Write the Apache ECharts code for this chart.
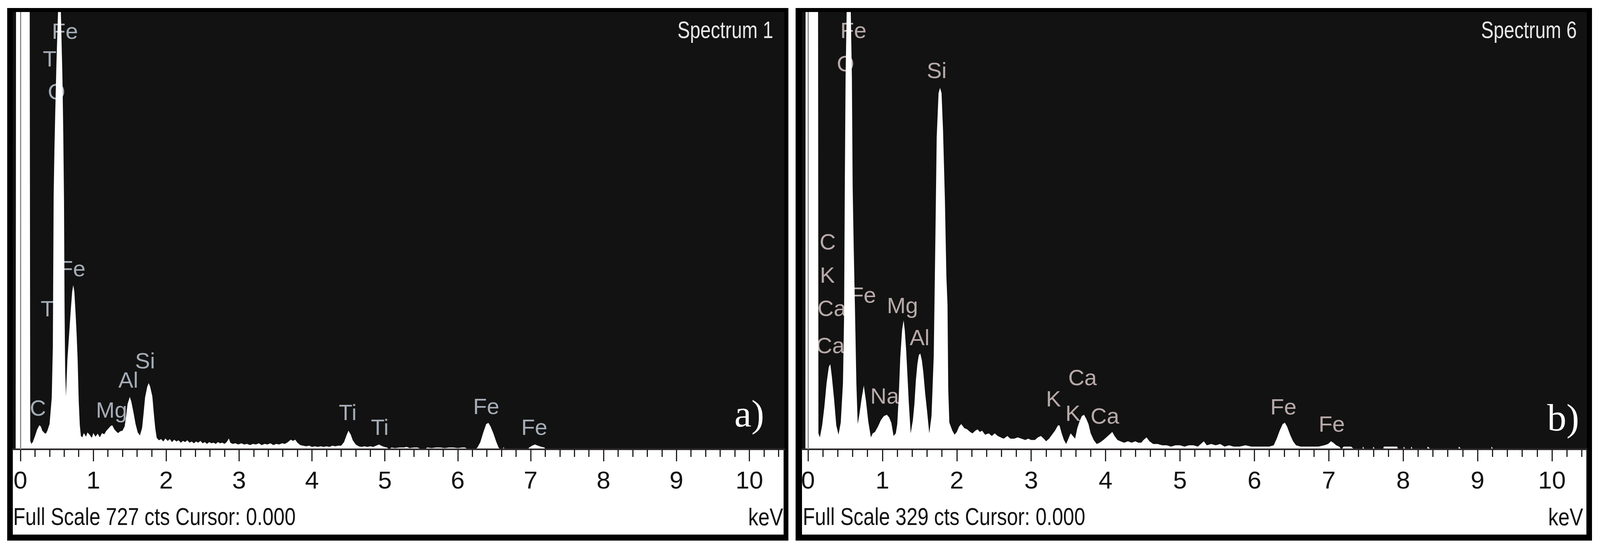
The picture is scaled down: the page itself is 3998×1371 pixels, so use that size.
<!DOCTYPE html>
<html>
<head>
<meta charset="utf-8">
<title>EDS spectra</title>
<script src="https://cdn.jsdelivr.net/npm/echarts@6.0.0/dist/echarts.min.js"></script>
<style>
  html, body { margin: 0; padding: 0; background: #fff; }
  #eds { width: 3998px; height: 1371px; }
</style>
</head>
<body>
<div id="eds"></div>
<script>
// ---- data: [keV, counts] ----
const spectrumA = [
  [-0.104, 0], [-0.065, 0], [-0.058, 1000], [0.125, 1000], [0.135, 14], [0.15, 9], [0.17, 12], [0.2, 22],
  [0.23, 33], [0.26, 40], [0.28, 38], [0.3, 31], [0.33, 27], [0.35, 26], [0.37, 31], [0.4, 42],
  [0.43, 86], [0.445, 170], [0.456, 420], [0.467, 500], [0.478, 560], [0.494, 640], [0.516, 727],
  [0.535, 760], [0.555, 727], [0.577, 615], [0.588, 526], [0.598, 415], [0.606, 230], [0.614, 130],
  [0.625, 88], [0.645, 150], [0.665, 185], [0.69, 230], [0.71, 262], [0.725, 273], [0.74, 262],
  [0.755, 230], [0.77, 195], [0.785, 150], [0.8, 80], [0.815, 40], [0.83, 22],
  [0.85, 20], [0.87, 27], [0.9, 21], [0.92, 28], [0.95, 24], [0.98, 19], [1.0, 27], [1.03, 21],
  [1.06, 26], [1.09, 20], [1.12, 27], [1.15, 25], [1.18, 31], [1.21, 35], [1.24, 39], [1.26, 40],
  [1.29, 33], [1.32, 29], [1.34, 27], [1.37, 30], [1.4, 31], [1.43, 38], [1.45, 55], [1.47, 75],
  [1.5, 87], [1.52, 80], [1.55, 62], [1.58, 42], [1.61, 28], [1.64, 23], [1.67, 36], [1.69, 60],
  [1.71, 86], [1.74, 104], [1.76, 110], [1.78, 104], [1.81, 88], [1.83, 60], [1.85, 35], [1.87, 19],
  [1.9, 15], [1.93, 17], [1.96, 13], [1.99, 18], [2.02, 14], [2.05, 17], [2.08, 12], [2.11, 16],
  [2.14, 13], [2.17, 15], [2.2, 11], [2.23, 14], [2.26, 12], [2.29, 15], [2.32, 11], [2.35, 13],
  [2.38, 10], [2.41, 13], [2.44, 11], [2.47, 14], [2.5, 10], [2.53, 12], [2.56, 9], [2.59, 12],
  [2.62, 10], [2.65, 11], [2.68, 9], [2.71, 12], [2.74, 10], [2.77, 11], [2.8, 9], [2.83, 12],
  [2.86, 18], [2.88, 11], [2.91, 9], [2.95, 10], [2.99, 8], [3.03, 10], [3.07, 8], [3.11, 9],
  [3.15, 7], [3.19, 9], [3.23, 8], [3.27, 10], [3.31, 7], [3.35, 9], [3.39, 8], [3.43, 10],
  [3.47, 7], [3.51, 9], [3.55, 8], [3.59, 10], [3.63, 9], [3.67, 12], [3.71, 16], [3.74, 14],
  [3.77, 16], [3.8, 11], [3.84, 7], [3.88, 6], [3.92, 5], [3.96, 6], [4.0, 4], [4.04, 5],
  [4.08, 4], [4.12, 5], [4.16, 4], [4.2, 5], [4.24, 4], [4.28, 6], [4.32, 5], [4.36, 6],
  [4.4, 6], [4.44, 12], [4.47, 22], [4.5, 31], [4.53, 25], [4.56, 15], [4.6, 8], [4.64, 5],
  [4.68, 4], [4.72, 5], [4.76, 4], [4.8, 5], [4.84, 4], [4.88, 6], [4.92, 8], [4.95, 6],
  [4.99, 4], [5.03, 3], [5.06, 0], [5.09, 3], [5.14, 2], [5.2, 3], [5.26, 3], [5.3, 4],
  [5.34, 2], [5.4, 3], [5.45, 3], [5.5, 0], [5.55, 0], [5.58, 3], [5.64, 2], [5.7, 3],
  [5.76, 3], [5.82, 2], [5.88, 3], [5.94, 3], [6.0, 2], [6.06, 3], [6.1, 3], [6.14, 0],
  [6.24, 0], [6.27, 3], [6.31, 12], [6.35, 28], [6.39, 42], [6.42, 44], [6.45, 38], [6.49, 26],
  [6.53, 12], [6.56, 3], [6.58, 0], [6.62, 0], [6.63, 4], [6.64, 0], [6.96, 0], [6.98, 3],
  [7.02, 6], [7.06, 8], [7.1, 6], [7.15, 4], [7.19, 3], [7.2, 0], [10.481, 0]
];

const spectrumB = [
  [-0.081, 0], [-0.035, 0], [-0.03, 700], [0.13, 700], [0.14, 12], [0.16, 9], [0.19, 18], [0.22, 32],
  [0.25, 50], [0.28, 62], [0.3, 64], [0.32, 55], [0.35, 38], [0.38, 18], [0.41, 11], [0.44, 20],
  [0.47, 50], [0.485, 100], [0.495, 200], [0.505, 280], [0.52, 329], [0.545, 345], [0.575, 329],
  [0.59, 279], [0.6, 198], [0.615, 150], [0.63, 109], [0.65, 50], [0.668, 19], [0.69, 26],
  [0.72, 38], [0.75, 48], [0.78, 36], [0.81, 21], [0.845, 9], [0.87, 12], [0.9, 13], [0.94, 17],
  [0.98, 22], [1.02, 25], [1.06, 26], [1.09, 24], [1.12, 20], [1.15, 10], [1.18, 12], [1.2, 19],
  [1.22, 40], [1.24, 69], [1.265, 90], [1.285, 97], [1.3, 90], [1.32, 74], [1.34, 52], [1.355, 35],
  [1.38, 12], [1.41, 22], [1.43, 34], [1.45, 52], [1.47, 64], [1.49, 71], [1.51, 72], [1.53, 67],
  [1.55, 58], [1.575, 42], [1.6, 29], [1.63, 12], [1.66, 25], [1.69, 70], [1.71, 150], [1.73, 235],
  [1.755, 268], [1.775, 272], [1.795, 268], [1.815, 240], [1.84, 188], [1.86, 130], [1.875, 109],
  [1.885, 45], [1.9, 20], [1.94, 14], [1.97, 11], [2.0, 13], [2.03, 17], [2.06, 19], [2.1, 16],
  [2.14, 15], [2.18, 13], [2.21, 12], [2.25, 14], [2.28, 15], [2.31, 13], [2.34, 14], [2.38, 11],
  [2.43, 12], [2.47, 10], [2.51, 12], [2.55, 10], [2.59, 9], [2.63, 8], [2.68, 10], [2.72, 8],
  [2.77, 8], [2.82, 9], [2.87, 8], [2.92, 7], [2.96, 8], [3.0, 7], [3.05, 7], [3.09, 9],
  [3.13, 10], [3.17, 8], [3.2, 6], [3.24, 8], [3.28, 11], [3.32, 14], [3.36, 18], [3.38, 18],
  [3.41, 12], [3.44, 7], [3.47, 4], [3.5, 8], [3.53, 12], [3.56, 10], [3.59, 8], [3.62, 16],
  [3.65, 21], [3.68, 25], [3.71, 26], [3.74, 23], [3.77, 19], [3.8, 12], [3.84, 7], [3.88, 4],
  [3.92, 5], [3.97, 7], [4.01, 9], [4.05, 11], [4.09, 13], [4.12, 10], [4.16, 7], [4.2, 6],
  [4.25, 5], [4.3, 6], [4.35, 5], [4.4, 6], [4.44, 5], [4.48, 5], [4.51, 7], [4.55, 9],
  [4.59, 6], [4.64, 4], [4.7, 4], [4.76, 3], [4.82, 3], [4.88, 2], [4.94, 3], [5.0, 3],
  [5.06, 2], [5.12, 3], [5.18, 3], [5.24, 2], [5.28, 4], [5.32, 6], [5.36, 3], [5.42, 4],
  [5.48, 3], [5.54, 4], [5.6, 2], [5.66, 3], [5.72, 2], [5.8, 2], [5.88, 3], [5.96, 2],
  [6.04, 2], [6.12, 2], [6.2, 2], [6.26, 3], [6.3, 8], [6.34, 14], [6.38, 19], [6.41, 20],
  [6.44, 17], [6.48, 11], [6.52, 6], [6.56, 3], [6.62, 2], [6.7, 2], [6.78, 2], [6.86, 2],
  [6.94, 3], [6.99, 4], [7.03, 6], [7.06, 5], [7.1, 3], [7.14, 2], [7.17, 0], [7.2, 2],
  [7.3, 2], [7.34, 0], [7.45, 0], [7.46, 2], [7.48, 0], [7.59, 0], [7.6, 2], [7.62, 0],
  [7.73, 0], [7.74, 2], [7.92, 2], [7.93, 0], [8.0, 0], [8.01, 2], [8.03, 0], [8.1, 0],
  [8.11, 2], [8.13, 0], [8.32, 0], [8.33, 2], [8.37, 0], [8.74, 0], [8.75, 2], [8.78, 0],
  [9.18, 0], [9.19, 2], [9.21, 0], [10.468, 0]
];

// element labels: [text, keV, counts] (centre of the label)
const labelsA = [
  ['Fe', 0.61, 693], ['Ti', 0.43, 647], ['O', 0.495, 592], ['Fe', 0.714, 298], ['Ti', 0.40, 231],
  ['C', 0.24, 66], ['Mg', 1.25, 63], ['Al', 1.48, 113], ['Si', 1.71, 145],
  ['Ti', 4.49, 59], ['Ti', 4.93, 34], ['Fe', 6.39, 69], ['Fe', 7.05, 34]
];
const labelsB = [
  ['Fe', 0.61, 314], ['O', 0.505, 289], ['Si', 1.73, 284], ['C', 0.265, 155], ['K', 0.26, 130],
  ['Ca', 0.32, 105], ['Fe', 0.74, 115], ['Mg', 1.27, 107], ['Al', 1.50, 83], ['Ca', 0.30, 77],
  ['Na', 1.03, 39], ['K', 3.30, 37], ['Ca', 3.69, 53], ['K', 3.56, 26], ['Ca', 3.99, 24],
  ['Fe', 6.39, 31], ['Fe', 7.04, 18]
];

const fullScaleA = 727;
const fullScaleB = 329;
const majorTicks = [0, 1, 2, 3, 4, 5, 6, 7, 8, 9, 10];
const minorTicks = [];
for (let k = 0; k <= 52; k++) {
    if (k % 5 !== 0) minorTicks.push(+(k * 0.2).toFixed(1));
}

const sans = "'Liberation Sans', Arial, sans-serif";
const serif = "'Liberation Serif', 'DejaVu Serif', serif";

let chart = echarts.init(document.getElementById('eds'), null, {renderer: 'canvas'});

function mainAxis(gridIndex, min, max) {
    return {
        type: 'value', gridIndex: gridIndex, min: min, max: max, z: 3,
        axisLine: {show: true, onZero: false, lineStyle: {color: '#2e2a2a', width: 4}},
        axisTick: {show: true, customValues: majorTicks, length: 30, lineStyle: {color: '#222', width: 3}},
        axisLabel: {show: true, customValues: majorTicks, margin: 50, fontSize: 62, color: '#111', fontFamily: sans},
        splitLine: {show: false}
    };
}
function minorAxis(gridIndex, min, max) {
    return {
        type: 'value', gridIndex: gridIndex, min: min, max: max, position: 'bottom', z: 3,
        axisLine: {show: false},
        axisTick: {show: true, customValues: minorTicks, length: 19, lineStyle: {color: '#222', width: 3}},
        axisLabel: {show: false},
        splitLine: {show: false}
    };
}
function spectrumSeries(data, xAxisIndex, yAxisIndex) {
    return {
        type: 'line', xAxisIndex: xAxisIndex, yAxisIndex: yAxisIndex, data: data,
        showSymbol: false, symbol: 'none', smooth: false, clip: true, z: 2,
        lineStyle: {width: 0, color: '#fff'},
        areaStyle: {color: '#ffffff', opacity: 1},
        markLine: {  // cursor at 0.000 keV
            silent: true, symbol: 'none', label: {show: false},
            lineStyle: {color: '#8c8c8c', width: 3, type: 'solid'},
            data: [{xAxis: 0}]
        }
    };
}
function labelSeries(labels, xAxisIndex, yAxisIndex, color) {
    return {
        type: 'scatter', xAxisIndex: xAxisIndex, yAxisIndex: yAxisIndex, z: 1,
        symbolSize: 0,
        data: labels.map(l => ({name: l[0], value: [l[1], l[2]]})),
        label: {show: true, position: 'inside', formatter: '{b}', color: color, fontSize: 56, fontFamily: sans}
    };
}
// text squeezed horizontally like the instrument's narrow font
function txt(x, y, text, size, color, align, sx, font) {
    return {type: 'text', x: x, y: y, z: 10, scaleX: sx,
        style: {text: text, fill: color, fontSize: size, fontFamily: font || sans, align: align, verticalAlign: 'middle'}};
}

let option = {
    backgroundColor: '#ffffff',
    animation: false,
    graphic: [
        // panel a frame
        {type: 'rect', z: -10, shape: {x: 18, y: 20, width: 1952, height: 1330}, style: {fill: '#000'}},
        {type: 'rect', z: -9, shape: {x: 32, y: 30, width: 1928, height: 1093}, style: {fill: '#121212'}},
        {type: 'rect', z: -9, shape: {x: 32, y: 1123, width: 1926, height: 212}, style: {fill: '#fff'}},
        // panel b frame
        {type: 'rect', z: -10, shape: {x: 1988, y: 20, width: 1990, height: 1330}, style: {fill: '#000'}},
        {type: 'rect', z: -9, shape: {x: 2004, y: 30, width: 1961, height: 1093}, style: {fill: '#121212'}},
        {type: 'rect', z: -9, shape: {x: 2004, y: 1123, width: 1960, height: 212}, style: {fill: '#fff'}},
        txt(1932, 78, 'Spectrum 1', 60, '#e6e6e6', 'right', 0.78),
        txt(3940, 78, 'Spectrum 6', 60, '#e6e6e6', 'right', 0.78),
        txt(33, 1294, 'Full Scale ' + fullScaleA + ' cts Cursor: 0.000', 62, '#111', 'left', 0.8),
        txt(2006, 1294, 'Full Scale ' + fullScaleB + ' cts Cursor: 0.000', 62, '#111', 'left', 0.8),
        txt(1957, 1295, 'keV', 62, '#111', 'right', 0.82),
        txt(3956, 1295, 'keV', 62, '#111', 'right', 0.82),
        txt(1835, 1040, 'a)', 96, '#ffffff', 'left', 1, serif),
        txt(3866, 1050, 'b)', 96, '#ffffff', 'left', 1, serif)
    ],
    grid: [
        {left: 32, top: 30, width: 1928, height: 1092, show: false},
        {left: 2004, top: 30, width: 1961, height: 1092, show: false}
    ],
    xAxis: [
        mainAxis(0, -0.1043, 10.481),
        minorAxis(0, -0.1043, 10.481),
        mainAxis(1, -0.0807, 10.468),
        minorAxis(1, -0.0807, 10.468)
    ],
    yAxis: [
        {type: 'value', gridIndex: 0, min: 0, max: fullScaleA, show: false},
        {type: 'value', gridIndex: 1, min: 0, max: fullScaleB, show: false}
    ],
    series: [
        spectrumSeries(spectrumA, 0, 0),
        labelSeries(labelsA, 0, 0, '#c9d3e0'),
        spectrumSeries(spectrumB, 2, 1),
        labelSeries(labelsB, 2, 1, '#e2cfcf')
    ]
};

chart.setOption(option);
</script>
</body>
</html>
